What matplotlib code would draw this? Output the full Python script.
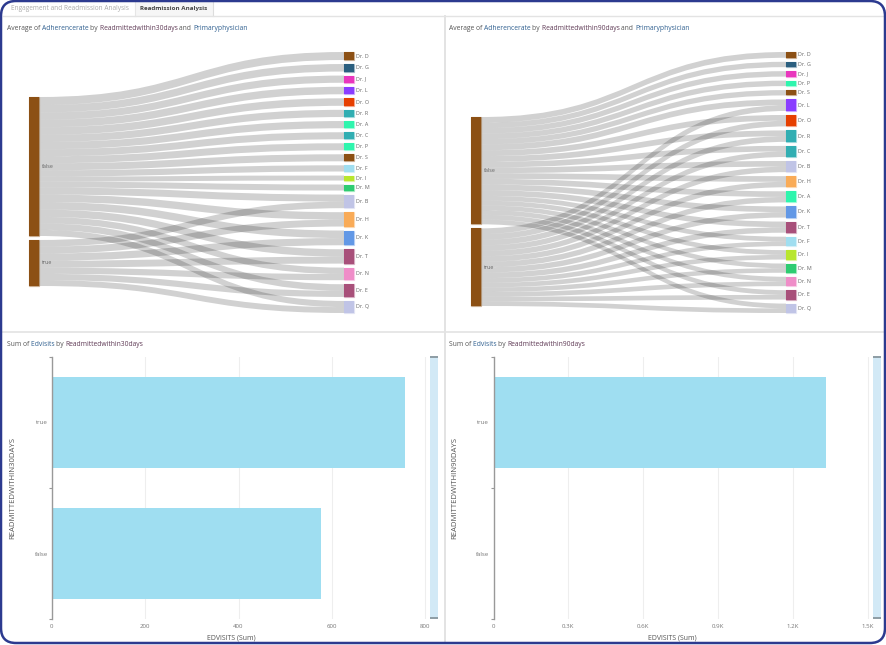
import matplotlib
matplotlib.use("Agg")
import matplotlib.pyplot as plt
from matplotlib.patches import FancyBboxPatch, PathPatch, Rectangle
from matplotlib.path import Path

plt.rcParams["font.family"] = ["Open Sans", "DejaVu Sans"]

W, H = 886, 645

# Average of adherence rate, first sankey (readmitted within 30 days)
doctors_30 = ["Dr. D", "Dr. G", "Dr. J", "Dr. L", "Dr. O", "Dr. R", "Dr. A", "Dr. C", "Dr. P", "Dr. S",
              "Dr. F", "Dr. I", "Dr. M", "Dr. B", "Dr. H", "Dr. K", "Dr. T", "Dr. N", "Dr. E", "Dr. Q"]
false_30 = [80, 75, 72, 75, 75, 72, 72, 70, 70, 70, 62, 50, 60, 70, 74, 75, 74, 64, 65, 61]
true_30 = [0, 0, 0, 0, 0, 0, 0, 0, 0, 0, 0, 0, 0, 66, 69, 72, 69, 62, 62, 59]

# second sankey (readmitted within 90 days)
doctors_90 = ["Dr. D", "Dr. G", "Dr. J", "Dr. P", "Dr. S", "Dr. L", "Dr. O", "Dr. R", "Dr. C", "Dr. B",
              "Dr. H", "Dr. A", "Dr. K", "Dr. T", "Dr. F", "Dr. I", "Dr. M", "Dr. N", "Dr. E", "Dr. Q"]
false_90 = [57, 53, 54, 54, 53, 58, 57, 57, 56, 56, 56, 56, 56, 56, 47, 47, 46, 47, 47, 47]
true_90 = [0, 0, 0, 0, 0, 56, 56, 56, 54, 54, 54, 54, 54, 54, 46, 46, 45, 46, 46, 46]

# Sum of ED visits
categories = ["true", "false"]
edvisits_30 = [757, 576]
edvisits_90 = [1332, 0]
ticks_30 = [0, 200, 400, 600, 800]
ticks_90 = [0, 300, 600, 900, 1200, 1500]
tick_labels_90 = ["0", "0.3K", "0.6K", "0.9K", "1.2K", "1.5K"]

node_colors = {
    "Dr. D": "#8c5014", "Dr. G": "#2b5f7f", "Dr. J": "#e936bd", "Dr. L": "#8a3dff",
    "Dr. O": "#e63f00", "Dr. R": "#31aeb2", "Dr. A": "#2ef5ad", "Dr. C": "#31aeb2",
    "Dr. P": "#2ef5ad", "Dr. S": "#8c5014", "Dr. F": "#a0def0", "Dr. I": "#b8e62e",
    "Dr. M": "#2ecc71", "Dr. B": "#c0c4e6", "Dr. H": "#f9ab57", "Dr. K": "#6298e6",
    "Dr. T": "#a8507a", "Dr. N": "#ef8dc8", "Dr. E": "#a8507a", "Dr. Q": "#c0c4e6",
}
BROWN = "#8c5014"
TEXT = "#555555"
BLUE = "#2f5f8f"
PLUM = "#5f3a55"

fig = plt.figure(figsize=(W / 100, H / 100), dpi=100, facecolor="white")


def px_axes(x0, y0, x1, y1):
    # axes placed in picture pixels
    return fig.add_axes([x0 / W, 1 - y1 / H, (x1 - x0) / W, (y1 - y0) / H])


def title(ax, x, y, parts, size=4.9):
    r = fig.canvas.get_renderer()
    for s, c in parts:
        t = ax.text(x, y, s, color=c, fontsize=size, va="center", ha="left")
        x += t.get_window_extent(r).width


def node(ax, x0, x1, y0, y1, color):
    ax.add_patch(Rectangle((x0, y0), x1 - x0, y1 - y0, fc=color, ec=color, lw=0.9, alpha=0.35, zorder=3))
    ax.add_patch(Rectangle((x0, y0), x1 - x0, y1 - y0, fc=color, ec="none", zorder=4))


def ribbon(ax, xa, xb, ya, yb, h):
    # constant vertical thickness, like the original ribbons
    xm = (xa + xb) / 2
    verts = [(xa, ya), (xm, ya), (xm, yb), (xb, yb),
             (xb, yb + h), (xm, yb + h), (xm, ya + h), (xa, ya + h), (xa, ya)]
    codes = [Path.MOVETO, Path.CURVE4, Path.CURVE4, Path.CURVE4,
             Path.LINETO, Path.CURVE4, Path.CURVE4, Path.CURVE4, Path.CLOSEPOLY]
    ax.add_patch(PathPatch(Path(verts, codes), fc=(0, 0, 0, 0.18), ec="none", zorder=2))


def sankey(panel, left_x, right_x, left_top, doctors, false_vals, true_vals):
    ax = px_axes(*panel)
    ax.set_xlim(panel[0], panel[2])
    ax.set_ylim(panel[3], panel[1])
    ax.axis("off")
    top, bottom, gap, node_w = 52.0, 313.0, 4.0, 10.0
    total = sum(false_vals) + sum(true_vals)
    k = (bottom - top - gap * (len(doctors) - 1)) / total

    left_nodes = [("false", sum(false_vals)), ("true", sum(true_vals))]
    y = left_top
    left_y = {}
    for name, v in left_nodes:
        h = v * k
        node(ax, left_x, left_x + node_w, y, y + h, BROWN)
        ax.text(left_x + node_w + 3, y + h / 2, name, fontsize=3.9, color="#666666", va="center")
        left_y[name] = y
        y += h + gap

    y = top
    for doc, f, t in zip(doctors, false_vals, true_vals):
        h = (f + t) * k
        node(ax, right_x, right_x + node_w, y, y + h, node_colors[doc])
        ax.text(right_x + node_w + 2.5, y + h / 2, doc, fontsize=3.9, color="#666666", va="center")
        yy = y
        for name, v in (("false", f), ("true", t)):
            if v == 0:
                continue
            lw = v * k
            ribbon(ax, left_x + node_w, right_x, left_y[name], yy, lw)
            left_y[name] += lw
            yy += lw
        y += h + gap
    return ax


def bars(x_left, x_right, xmax, values, ticks, labels, ylabel, ylabel_x, xlabel_x, slider):
    ax = px_axes(x_left, 357, x_right, 619)
    ax.set_xlim(0, xmax)
    ax.set_ylim(2, 0)
    pos = [0.5, 1.5]
    ax.barh(pos, values, height=0.69, color="#9fdef1", zorder=2)
    ax.set_xticks(ticks, labels)
    ax.set_yticks(pos, categories)
    ax.set_yticks([0, 1, 2], minor=True)
    ax.tick_params(axis="x", length=0, labelsize=4.4, labelcolor="#777777", pad=3.5)
    ax.tick_params(axis="y", which="major", length=0, labelsize=4.4, labelcolor="#777777", pad=3)
    ax.tick_params(axis="y", which="minor", length=2, width=0.8, color="#999999")
    ax.grid(axis="x", color="#eeeeee", lw=0.8, zorder=0)
    for s in ["top", "right", "bottom"]:
        ax.spines[s].set_visible(False)
    ax.spines["left"].set_color("#999999")
    ax.spines["left"].set_linewidth(1.0)
    ax.patch.set_alpha(0)
    bg.text(xlabel_x, 638, "EDVISITS (Sum)", fontsize=5.0, color=TEXT, ha="center", va="center")
    bg.text(ylabel_x, 488, ylabel, rotation=90, fontsize=5.6, color=TEXT, ha="center", va="center")
    # zoom slider next to the plot
    bg.add_patch(Rectangle((slider, 357), 8, 262, fc="#d2e9f6", ec="none"))
    bg.add_patch(Rectangle((slider, 355.5), 8, 2.2, fc="#8f9ea6", ec="none"))
    bg.add_patch(Rectangle((slider, 617), 8, 2, fc="#8f9ea6", ec="none"))
    return ax


# page chrome
bg = px_axes(0, 0, W, H)
bg.set_xlim(0, W)
bg.set_ylim(H, 0)
bg.axis("off")
bg.add_patch(Rectangle((135, 2), 78, 13.5, fc="#f6f6f6", ec="none"))
bg.plot([213, 213], [2, 16], color="#dddddd", lw=0.8)
bg.plot([135, 135], [2, 16], color="#e6e6e6", lw=0.8)
bg.plot([3, 883], [16, 16], color="#e3e3e3", lw=1.0)
bg.plot([445, 445], [16, 642], color="#e3e3e3", lw=1.4)
bg.plot([2, 884], [331.5, 331.5], color="#e3e3e3", lw=1.2)
bg.text(11, 8.3, "Engagement and Readmission Analysis", fontsize=4.7, color="#aaaaaa", va="center")
bg.text(174, 8.3, "Readmission Analysis", fontsize=4.5, color="#444444", va="center", ha="center", fontweight="bold")
bg.add_patch(FancyBboxPatch((1, 1), W - 2, H - 3, boxstyle="round,pad=0,rounding_size=15",
                            fc="none", ec="#2c3a8f", lw=1.8, zorder=10))

title(bg, 7, 28, [("Average of ", TEXT), ("Adherencerate ", BLUE), ("by ", TEXT),
                  ("Readmittedwithin30days ", PLUM), ("and ", TEXT), ("Primaryphysician", BLUE)])
title(bg, 449, 28, [("Average of ", TEXT), ("Adherencerate ", BLUE), ("by ", TEXT),
                    ("Readmittedwithin90days ", PLUM), ("and ", TEXT), ("Primaryphysician", BLUE)])
title(bg, 7, 344, [("Sum of ", TEXT), ("Edvisits ", BLUE), ("by ", TEXT), ("Readmittedwithin30days", PLUM)])
title(bg, 449, 344, [("Sum of ", TEXT), ("Edvisits ", BLUE), ("by ", TEXT), ("Readmittedwithin90days", PLUM)])

sankey((3, 40, 444, 325), 29, 344, 97, doctors_30, false_30, true_30)
sankey((447, 40, 884, 325), 471, 786, 117, doctors_90, false_90, true_90)

bars(52, 428, 806, edvisits_30, ticks_30, [str(t) for t in ticks_30],
     "READMITTEDWITHIN30DAYS", 13, 231, 430.3)
bars(493.5, 870, 1508, edvisits_90, ticks_90, tick_labels_90,
     "READMITTEDWITHIN90DAYS", 455, 672, 872.7)

fig.savefig("out.png", dpi=100)
